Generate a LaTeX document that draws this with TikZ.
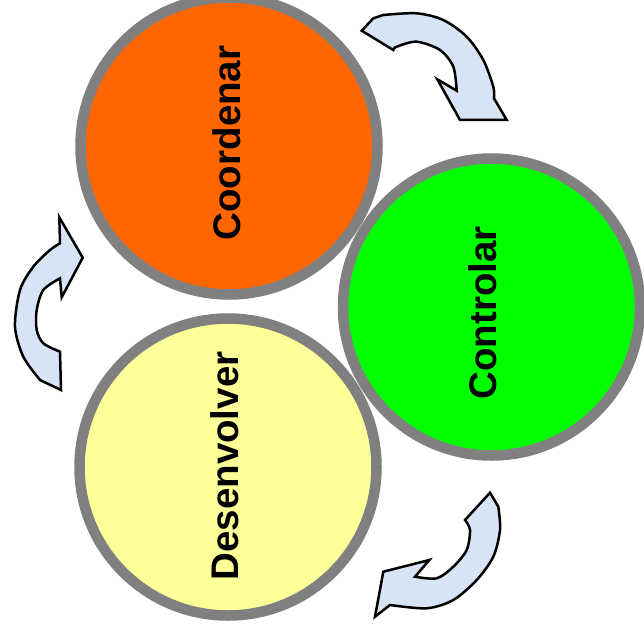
\documentclass[tikz,border=0pt]{standalone}
\usepackage{fontspec}
\setmainfont{Liberation Sans}
\usepackage{xcolor}
\usepackage{tikz}

\definecolor{rimgray}{RGB}{128,128,128}
\definecolor{coordorange}{RGB}{255,102,0}
\definecolor{ctrlgreen}{RGB}{0,255,0}
\definecolor{devyellow}{RGB}{255,255,153}
\definecolor{arrowblue}{RGB}{214,228,246}

\begin{document}
\begin{tikzpicture}[x=1pt,y=-1pt,
    phase/.style={circle, draw=rimgray, line width=10.5pt, minimum size=297pt, inner sep=0pt},
    phasename/.style={rotate=90, inner sep=0pt, font=\fontsize{38.5}{40}\selectfont\bfseries},
    turn/.style={draw=black, line width=2.5pt, fill=arrowblue, line join=miter}]
\useasboundingbox (0,0) rectangle (644,639);

\node[phase, fill=coordorange] (coordenar) at (229,146) {};
\node[phase, fill=ctrlgreen] (controlar) at (491.5,307) {};
\node[phase, fill=devyellow] (desenvolver) at (228,467) {};

\node[phasename] (coordenar text) at (227,143) {Coordenar};
\node[phasename] (controlar text) at (483,313) {Controlar};
\node[phasename] (desenvolver text) at (225,466) {Desenvolver};

% top right: coordenar -> controlar
\draw[turn] (361.7,30.7) -- (373.3,18.3)
    -- plot[smooth] coordinates {(383.3,15) (416.7,13.3) (443.3,20) (466.7,36.7) (483.3,60) (493.3,86.7) (494,98.3)}
    -- (506.7,120) -- (460,120) -- (437.3,79.3)
    -- plot[smooth] coordinates {(456.7,90.7) (453.3,66.7) (440,50) (416.7,41.7) (396.7,46.7) (393.3,50)}
    -- cycle;

% bottom right: controlar -> desenvolver
\draw[turn] (490,492.7)
    -- plot[smooth] coordinates {(498.3,506.7) (500,530) (493.3,556.7) (476.7,580) (453.3,600) (426.7,608.3) (390,605)}
    -- (375,616.7) -- (383.3,571.7) -- (429.3,560)
    -- plot[smooth] coordinates {(415,576.7) (436.7,578.3) (453.3,566.7) (466.7,550) (470,530) (465,520)}
    -- cycle;

% left: desenvolver -> coordenar
\draw[turn] (61,390)
    -- plot[smooth] coordinates {(40,380) (23.3,356.7) (15,326.7) (20,290) (33.3,266.7) (50,250) (60,243.3)}
    -- (59.3,217.3) -- (82.7,257.7) -- (61.7,297.3)
    -- plot[smooth] coordinates {(60,278.3) (43.3,290) (36.7,310) (36.7,330) (43.3,343.3) (60,351.7)}
    -- cycle;
\end{tikzpicture}
\end{document}
